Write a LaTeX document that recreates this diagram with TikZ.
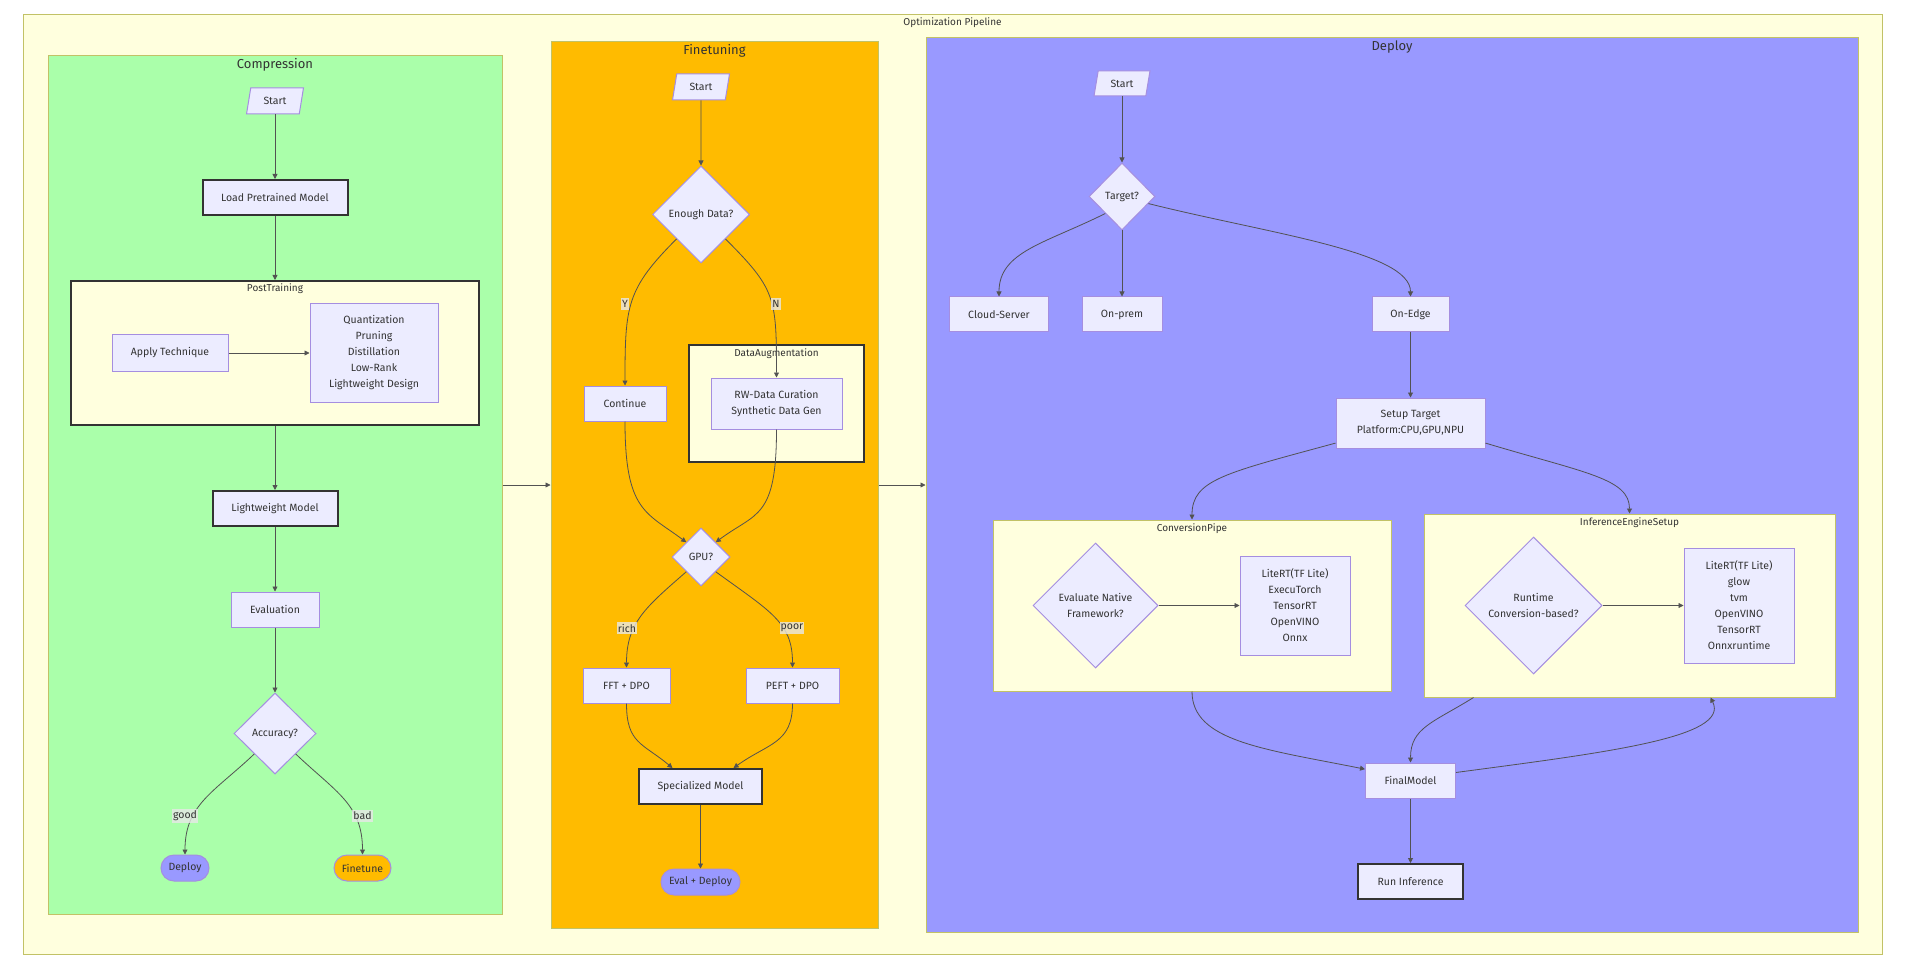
\documentclass[tikz,border=0pt]{standalone}
\usepackage{fontspec}
\setmainfont{Fira Sans}
\usepackage{tikz}
\usetikzlibrary{arrows.meta,shapes.geometric,positioning}

\definecolor{nodefill}{HTML}{ECECFF}
\definecolor{nodeline}{HTML}{A58EE0}
\definecolor{clusterfill}{HTML}{FFFFDE}
\definecolor{clusterline}{HTML}{C2C266}
\definecolor{inkgray}{HTML}{333333}
\definecolor{greenfill}{HTML}{AAFFAA}
\definecolor{orangefill}{HTML}{FFBB00}
\definecolor{purplefill}{HTML}{9999FF}
\definecolor{labelfill}{HTML}{E8E8E8}

\newcommand{\boxtextfont}{\fontsize{10.5}{16}\selectfont}
\newcommand{\headtextfont}{\fontsize{13}{15}\selectfont}
\newcommand{\subtextfont}{\fontsize{10}{12}\selectfont}

\tikzset{
  box/.style={draw=nodeline, fill=nodefill, line width=1pt, text=inkgray,
    font=\boxtextfont, align=center, inner sep=0pt},
  boldbox/.style={box, draw=inkgray, line width=2pt},
  decision/.style={box, diamond, aspect=1},
  startbox/.style={box, trapezium, trapezium left angle=75,
    trapezium right angle=105, trapezium stretches=true,
    minimum width=57pt, minimum height=26pt},
  pill/.style={box, rounded corners=13pt, minimum height=26pt},
  cluster/.style={draw=clusterline, fill=clusterfill, line width=1pt, inner sep=0pt},
  darkcluster/.style={cluster, draw=inkgray, line width=2pt},
  grouphead/.style={text=inkgray, font=\headtextfont, inner sep=0pt},
  groupname/.style={text=inkgray, font=\subtextfont, inner sep=0pt},
  elabel/.style={fill=labelfill, fill opacity=0.8, text opacity=1, text=inkgray,
    font=\boxtextfont, inner xsep=1pt, inner ysep=2pt},
  flow/.style={draw=inkgray!85, line width=0.8pt, -{Triangle[length=5pt,width=5pt]}},
}

\begin{document}
\begin{tikzpicture}[x=1pt, y=-1pt]
        \fill[white] (0,0) rectangle (1905,965);

        % pipeline frame
        \node[cluster, minimum width=1859pt, minimum height=939pt] (pipeline) at (952.5,484.5) {};
        \node[groupname] (pipelineName) at (952.5,23) {Optimization Pipeline};

        % compression
        \node[cluster, fill=greenfill, minimum width=454pt, minimum height=858pt] (compression) at (275,485) {};
        \node[grouphead] (compressionName) at (275,65) {Compression};
        \node[darkcluster, minimum width=408pt, minimum height=144pt] (postTraining) at (275,353) {};
        \node[groupname] (postTrainingName) at (275,289) {PostTraining};

        \node[startbox] (cStart) at (275,101) {Start};
        \node[boldbox, minimum width=145pt, minimum height=35pt] (cLoad) at (275,197.5) {Load Pretrained Model};
        \node[box, minimum width=116pt, minimum height=36pt] (cApply) at (170,353) {Apply Technique};
        \node[box, minimum width=128pt, minimum height=98pt] (cTech) at (374,353)
          {Quantization\\Pruning\\Distillation\\Low-Rank\\Lightweight Design};
        \node[boldbox, minimum width=125pt, minimum height=35pt] (cLight) at (275,508.5) {Lightweight Model};
        \node[box, minimum width=88pt, minimum height=35pt] (cEval) at (275,609.5) {Evaluation};
        \node[decision, minimum width=82pt, minimum height=81pt] (cAcc) at (275,733.5) {Accuracy?};
        \node[pill, fill=purplefill, minimum width=48pt] (cDeploy) at (185,868) {Deploy};
        \node[pill, fill=orangefill, minimum width=57pt] (cFine) at (362.5,868) {Finetune};

        \draw[flow] (cStart) -- (cLoad);
        \draw[flow] (cLoad) -- (postTraining);
        \draw[flow] (cApply) -- (cTech);
        \draw[flow] (postTraining) -- (cLight);
        \draw[flow] (cLight) -- (cEval);
        \draw[flow] (cEval) -- (cAcc);
        \draw[flow] (cAcc.south west) .. controls +(-40,38) and +(0,-50) .. (cDeploy.north);
        \draw[flow] (cAcc.south east) .. controls +(40,38) and +(0,-50) .. (cFine.north);
        \node[elabel] (lGood) at (185,816) {good};
        \node[elabel] (lBad) at (362.5,816) {bad};

        % finetuning
        \node[cluster, fill=orangefill, minimum width=327pt, minimum height=886pt] (finetuning) at (714.5,485) {};
        \node[grouphead] (finetuningName) at (714.5,51) {Finetuning};
        \node[darkcluster, minimum width=175pt, minimum height=117pt] (dataAug) at (776.5,403.5) {};
        \node[groupname] (dataAugName) at (776.5,354) {DataAugmentation};

        \node[startbox] (fStart) at (701,87) {Start};
        \node[decision, minimum width=97pt, minimum height=97pt] (fEnough) at (701,214.5) {Enough Data?};
        \node[box, minimum width=82pt, minimum height=35pt] (fCont) at (625,403.5) {Continue};
        \node[box, minimum width=131pt, minimum height=51pt] (fAug) at (776.5,403.5)
          {RW-Data Curation\\Synthetic Data Gen};
        \node[decision, minimum width=58pt, minimum height=58pt] (fGpu) at (701,557) {GPU?};
        \node[box, minimum width=87pt, minimum height=35pt] (fFft) at (626.5,685.5) {FFT + DPO};
        \node[box, minimum width=93pt, minimum height=35pt] (fPeft) at (792.5,685.5) {PEFT + DPO};
        \node[boldbox, minimum width=123pt, minimum height=35pt] (fSpec) at (700.5,786.5) {Specialized Model};
        \node[pill, fill=purplefill, minimum width=79pt] (fEval) at (700.5,882) {Eval + Deploy};

        \draw[flow] (fStart) -- (fEnough);
        \draw[flow] (fEnough.south west) .. controls +(-50,50) and +(0,-80) .. (fCont.north);
        \draw[flow] (fEnough.south east) .. controls +(50,50) and +(0,-80) .. (fAug.north);
        \draw[flow] (fCont.south) .. controls +(0,90) and +(-40,-30) .. (fGpu.north west);
        \draw[flow] (fAug.south) .. controls +(0,90) and +(40,-30) .. (fGpu.north east);
        \draw[flow] (fGpu.south west) .. controls +(-40,35) and +(0,-45) .. (fFft.north);
        \draw[flow] (fGpu.south east) .. controls +(55,40) and +(0,-45) .. (fPeft.north);
        \draw[flow] (fFft.south) .. controls +(0,40) and +(-30,-25) .. ([xshift=-28pt]fSpec.north);
        \draw[flow] (fPeft.south) .. controls +(0,40) and +(35,-25) .. ([xshift=33pt]fSpec.north);
        \draw[flow] (fSpec) -- (fEval);
        \node[elabel] (lYes) at (625,304) {Y};
        \node[elabel] (lNo) at (776,304) {N};
        \node[elabel] (lRich) at (627,628) {rich};
        \node[elabel] (lPoor) at (792,628) {poor};

        % deploy
        \node[cluster, fill=purplefill, minimum width=932pt, minimum height=894pt] (deploy) at (1392,485) {};
        \node[grouphead] (deployName) at (1392,47) {Deploy};
        \node[cluster, minimum width=398pt, minimum height=171pt] (convPipe) at (1192,605.5) {};
        \node[groupname] (convPipeName) at (1192,529) {ConversionPipe};
        \node[cluster, minimum width=411pt, minimum height=183pt] (engineSetup) at (1629.5,605.5) {};
        \node[groupname] (engineSetupName) at (1629.5,523) {InferenceEngineSetup};

        \node[startbox, minimum width=56pt, minimum height=25pt] (dStart) at (1122,83.5) {Start};
        \node[decision, minimum width=66pt, minimum height=67pt] (dTarget) at (1122,196.5) {Target?};
        \node[box, minimum width=99pt, minimum height=35pt] (dCloud) at (999,314.5) {Cloud-Server};
        \node[box, minimum width=80pt, minimum height=35pt] (dPrem) at (1122,314.5) {On-prem};
        \node[box, minimum width=77pt, minimum height=35pt] (dEdge) at (1410.5,314.5) {On-Edge};
        \node[box, minimum width=149pt, minimum height=50pt] (dSetup) at (1410.5,423)
          {Setup Target\\Platform:CPU,GPU,NPU};
        \node[decision, minimum width=125pt, minimum height=125pt] (dNative) at (1095.5,605.5)
          {Evaluate Native\\Framework?};
        \node[box, minimum width=110pt, minimum height=99pt] (dConvList) at (1295,605.5)
          {LiteRT(TF Lite)\\ExecuTorch\\TensorRT\\OpenVINO\\Onnx};
        \node[decision, minimum width=137pt, minimum height=137pt] (dRuntime) at (1533.5,605.5)
          {Runtime\\Conversion-based?};
        \node[box, minimum width=110pt, minimum height=115pt] (dRtList) at (1739,605.5)
          {LiteRT(TF Lite)\\glow\\tvm\\OpenVINO\\TensorRT\\Onnxruntime};
        \node[box, minimum width=90pt, minimum height=35pt] (dFinal) at (1410.5,780.5) {FinalModel};
        \node[boldbox, minimum width=105pt, minimum height=35pt] (dRun) at (1410.5,881.5) {Run Inference};

        \draw[flow] (dStart) -- (dTarget);
        \draw[flow] (dTarget.south west) .. controls +(-60,30) and +(0,-45) .. (dCloud.north);
        \draw[flow] (dTarget) -- (dPrem);
        \draw[flow] (dTarget.-15) .. controls +(120,30) and +(0,-45) .. (dEdge.north);
        \draw[flow] (dEdge) -- (dSetup);
        \draw[flow] (dSetup.-165) .. controls +(-110,30) and +(0,-40) .. (convPipe.north);
        \draw[flow] (dSetup.-15) .. controls +(100,30) and +(0,-35) .. (engineSetup.north);
        \draw[flow] (dNative) -- (dConvList);
        \draw[flow] (dRuntime) -- (dRtList);
        \draw[flow] (convPipe.south) .. controls +(0,50) and +(-100,-20) .. (dFinal.166);
        \draw[flow] ([xshift=-156pt]engineSetup.south) .. controls +(-40,25) and +(0,-35) .. (dFinal.north);
        \draw[flow] (dFinal.10) .. controls +(150,-20) and +(20,40) .. ([xshift=81pt]engineSetup.south);
        \draw[flow] (dFinal) -- (dRun);

        % between stages
        \draw[flow] (compression.east) -- (finetuning.west);
        \draw[flow] (finetuning.east) -- (deploy.west);
\end{tikzpicture}
\end{document}
